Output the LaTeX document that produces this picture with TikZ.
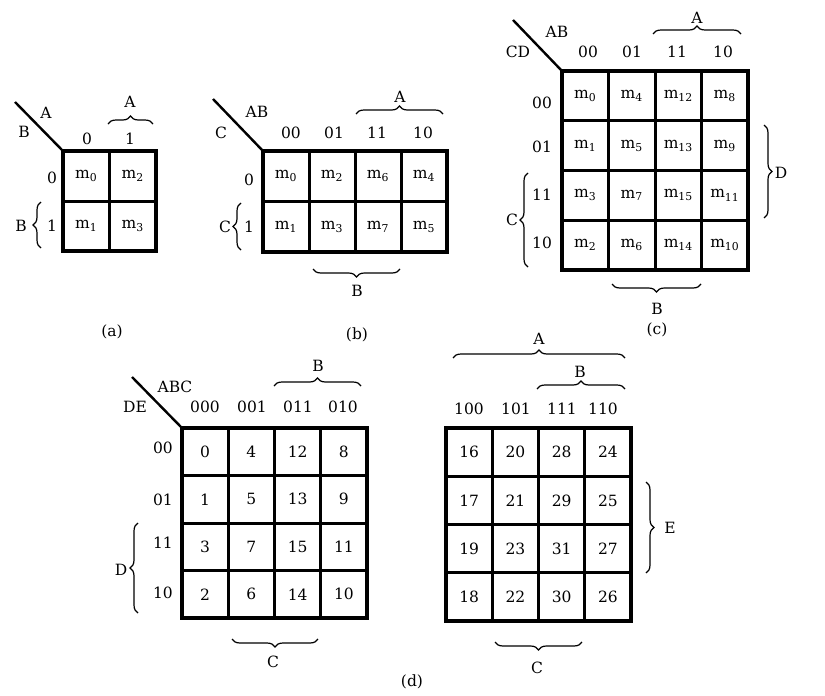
\documentclass[tikz,border=0pt]{standalone}
\usepackage{fontspec}
\setmainfont{DejaVu Serif}
\usetikzlibrary{decorations.pathreplacing}
\newcommand\mterm[1]{m\textsubscript{#1}}
\begin{document}
\begin{tikzpicture}[x=1pt,y=-1pt,
  every node/.style={font=\fontsize{15.5}{18}\selectfont, inner sep=0pt},
  cellbox/.style={draw, line width=3pt, inner sep=0pt, outer sep=0pt},
  outerbox/.style={line width=4pt},
  diag/.style={line width=2.4pt},
  br/.style={decorate, decoration={brace, amplitude=8pt}, line width=1.2pt}]
\useasboundingbox (0,0) rectangle (825,696);
\fill[white] (0,0) rectangle (825,696);

% ---------------- (a) ----------------
\foreach \t [count=\k from 0] in {0,2,1,3} {
  \pgfmathtruncatemacro\cc{mod(\k,2)}
  \pgfmathtruncatemacro\rr{floor(\k/2)}
  \node[cellbox, minimum width=46.5pt, minimum height=50pt] (a\t)
    at ({63+46.5*(\cc+0.5)},{151+50*(\rr+0.5)}) {\mterm{\t}};
}
\draw[outerbox] (a0.north west) rectangle (a3.south east);
\coordinate (aD) at (15,102);
\draw[diag] (aD) -- (a0.north west);
\node (aA) at (46,113) {A};
\node (aB) at (24,132) {B};
\node (ac0) at (87,139) {0};
\node (ac1) at (130,139) {1};
\draw[br] (108,124) -- (153,124);
\node (aAb) at (130,102) {A};
\node (ar0) at (52,178) {0};
\node (ar1) at (52,226) {1};
\draw[br] (41,248) -- (41,202);
\node (aBb) at (21,226) {B};
\node (acap) at (112,332) {(a)};

% ---------------- (b) ----------------
\foreach \t [count=\k from 0] in {0,2,6,4,1,3,7,5} {
  \pgfmathtruncatemacro\cc{mod(\k,4)}
  \pgfmathtruncatemacro\rr{floor(\k/4)}
  \node[cellbox, minimum width=46pt, minimum height=50.5pt] (b\t)
    at ({263+46*(\cc+0.5)},{151+50.5*(\rr+0.5)}) {\mterm{\t}};
}
\draw[outerbox] (b0.north west) rectangle (b5.south east);
\coordinate (bD) at (213,99);
\draw[diag] (bD) -- (b0.north west);
\node (bAB) at (257,112) {AB};
\node (bC) at (221,133) {C};
\node (bc0) at (291,133) {00};
\node (bc1) at (334,133) {01};
\node (bc2) at (377,133) {11};
\node (bc3) at (423,133) {10};
\draw[br] (356,114) -- (443,114);
\node (bAb) at (400,97) {A};
\node (br0) at (249,180) {0};
\node (br1) at (249,227) {1};
\draw[br] (241,250) -- (241,203);
\node (bCb) at (225,227) {C};
\draw[br] (400,269) -- (313,269);
\node (bBb) at (357,291) {B};
\node (bcap) at (357,335) {(b)};

% ---------------- (c) ----------------
\foreach \t [count=\k from 0] in {0,4,12,8,1,5,13,9,3,7,15,11,2,6,14,10} {
  \pgfmathtruncatemacro\cc{mod(\k,4)}
  \pgfmathtruncatemacro\rr{floor(\k/4)}
  \node[cellbox, minimum width=46.5pt, minimum height=49.75pt] (c\t)
    at ({562+46.5*(\cc+0.5)},{71+49.75*(\rr+0.5)}) {\mterm{\t}};
}
\draw[outerbox] (c0.north west) rectangle (c10.south east);
\coordinate (cD) at (513,20);
\draw[diag] (cD) -- (c0.north west);
\node (cAB) at (557,32) {AB};
\node (cCD) at (518,52) {CD};
\node (cc0) at (588,52) {00};
\node (cc1) at (632,52) {01};
\node (cc2) at (677,52) {11};
\node (cc3) at (723,52) {10};
\draw[br] (653,34) -- (741,34);
\node (cAb) at (697,18) {A};
\node (cr0) at (542,103) {00};
\node (cr1) at (542,147) {01};
\node (cr2) at (542,195) {11};
\node (cr3) at (542,243) {10};
\draw[br] (528,267) -- (528,173);
\node (cCb) at (512,220) {C};
\draw[br] (764,125) -- (764,218);
\node (cDb) at (781,173) {D};
\draw[br] (701,284) -- (612,284);
\node (cBb) at (657,309) {B};
\node (ccap) at (657,330) {(c)};

% ---------------- (d) left ----------------
\foreach \t [count=\k from 0] in {0,4,12,8,1,5,13,9,3,7,15,11,2,6,14,10} {
  \pgfmathtruncatemacro\cc{mod(\k,4)}
  \pgfmathtruncatemacro\rr{floor(\k/4)}
  \node[cellbox, minimum width=46.25pt, minimum height=47.5pt] (d\t)
    at ({182+46.25*(\cc+0.5)},{428+47.5*(\rr+0.5)}) {\t};
}
\draw[outerbox] (d0.north west) rectangle (d10.south east);
\coordinate (dD) at (132,377);
\draw[diag] (dD) -- (d0.north west);
\node (dABC) at (175,387) {ABC};
\node (dDE) at (135,407) {DE};
\node (dc0) at (205,407) {000};
\node (dc1) at (252,407) {001};
\node (dc2) at (298,407) {011};
\node (dc3) at (343,407) {010};
\draw[br] (274,386) -- (361,386);
\node (dBb) at (318,366) {B};
\node (dr0) at (163,448) {00};
\node (dr1) at (163,500) {01};
\node (dr2) at (163,543) {11};
\node (dr3) at (163,593) {10};
\draw[br] (138,613) -- (138,523);
\node (dDb) at (121,570) {D};
\draw[br] (318,639) -- (232,639);
\node (dCb) at (273,662) {C};

% ---------------- (d) right ----------------
\foreach \t [count=\k from 0] in {16,20,28,24,17,21,29,25,19,23,31,27,18,22,30,26} {
  \pgfmathtruncatemacro\cc{mod(\k,4)}
  \pgfmathtruncatemacro\rr{floor(\k/4)}
  \node[cellbox, minimum width=46.25pt, minimum height=48.25pt] (d\t)
    at ({446+46.25*(\cc+0.5)},{428+48.25*(\rr+0.5)}) {\t};
}
\draw[outerbox] (d16.north west) rectangle (d26.south east);
\node (ec0) at (469,409) {100};
\node (ec1) at (516,409) {101};
\node (ec2) at (562,409) {111};
\node (ec3) at (603,409) {110};
\draw[br] (453,358) -- (625,358);
\node (eAb) at (539,339) {A};
\draw[br] (537,389) -- (625,389);
\node (eBb) at (580,372) {B};
\draw[br] (646,482) -- (646,573);
\node (eEb) at (670,528) {E};
\draw[br] (582,642) -- (495,642);
\node (eCb) at (537,668) {C};
\node (dcap) at (412,682) {(d)};
\end{tikzpicture}
\end{document}
